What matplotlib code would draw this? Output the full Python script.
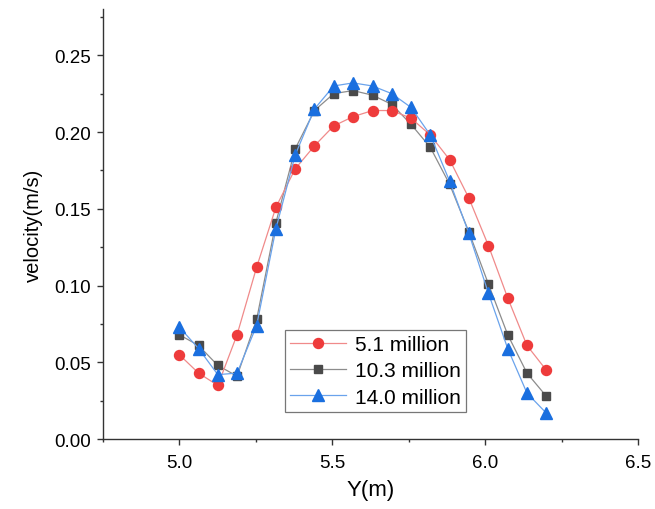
#!/usr/bin/env python3

import matplotlib
matplotlib.use("Agg")
import matplotlib.pyplot as plt
from matplotlib.ticker import MultipleLocator

plt.rcParams['font.family'] = ['Liberation Sans', 'DejaVu Sans']

y_pos = [5.000, 5.063, 5.126, 5.189, 5.253, 5.316, 5.379, 5.442, 5.505, 5.568,
         5.632, 5.695, 5.758, 5.821, 5.884, 5.947, 6.011, 6.074, 6.137, 6.200]

vel_5_1 = [0.055, 0.043, 0.035, 0.068, 0.112, 0.151, 0.176, 0.191, 0.204, 0.210,
           0.214, 0.214, 0.209, 0.198, 0.182, 0.157, 0.126, 0.092, 0.061, 0.045]
vel_10_3 = [0.068, 0.061, 0.048, 0.041, 0.078, 0.141, 0.189, 0.214, 0.225, 0.227,
            0.224, 0.218, 0.205, 0.190, 0.166, 0.135, 0.101, 0.068, 0.043, 0.028]
vel_14_0 = [0.073, 0.059, 0.042, 0.043, 0.074, 0.137, 0.185, 0.215, 0.230, 0.232,
            0.230, 0.225, 0.216, 0.198, 0.168, 0.134, 0.095, 0.059, 0.030, 0.017]

labels = ["5.1 million", "10.3 million", "14.0 million"]


def main():
    fig = plt.figure(figsize=(6.55, 5.10), dpi=100)
    ax = fig.add_axes([0.157, 0.137, 0.817, 0.843])

    # line colour is a lighter shade of the marker colour, like Origin
    h1, = ax.plot(y_pos, vel_5_1, color='#f08a8a', lw=0.9, marker='o', ms=7.2,
                  mfc='#ee3b3b', mec='#ee3b3b', label=labels[0], zorder=3)
    h2, = ax.plot(y_pos, vel_10_3, color='#8c8c8c', lw=0.9, marker='s', ms=6,
                  mfc='#4a4a4a', mec='#4a4a4a', label=labels[1], zorder=2)
    h3, = ax.plot(y_pos, vel_14_0, color='#6aa3ec', lw=0.9, marker='^', ms=8,
                  mfc='#1a6fdf', mec='#1a6fdf', label=labels[2], zorder=4)

    ax.set_xlim(4.75, 6.5)
    ax.set_ylim(0, 0.28)
    ax.xaxis.set_major_locator(MultipleLocator(0.5))
    ax.xaxis.set_minor_locator(MultipleLocator(0.25))
    ax.yaxis.set_major_locator(MultipleLocator(0.05))
    ax.yaxis.set_minor_locator(MultipleLocator(0.025))
    ax.xaxis.set_major_formatter(plt.FormatStrFormatter('%.1f'))
    ax.yaxis.set_major_formatter(plt.FormatStrFormatter('%.2f'))

    for side in ['top', 'right']:
        ax.spines[side].set_visible(False)
    for side in ['left', 'bottom']:
        ax.spines[side].set_linewidth(1.0)
        ax.spines[side].set_color('#333333')

    ax.tick_params(which='major', direction='out', length=4.5, width=1,
                   color='#333333', labelsize=13.5, pad=4)
    ax.tick_params(axis='x', which='major', pad=6)
    ax.tick_params(which='minor', direction='out', length=2.5, width=1,
                   color='#333333')

    ax.set_xlabel("Y(m)", fontsize=16, labelpad=6)
    ax.set_ylabel("velocity(m/s)", fontsize=14.5, labelpad=8)

    leg = ax.legend(handles=[h1, h2, h3], loc='upper left',
                    bbox_to_anchor=(0.435, 0.351),
                    bbox_transform=fig.transFigure, fontsize=15,
                    frameon=True, fancybox=False, borderaxespad=0,
                    handlelength=2.7, handletextpad=0.4, labelspacing=0.35,
                    borderpad=0.25)
    leg.get_frame().set_edgecolor('#555555')
    leg.get_frame().set_linewidth(0.9)

    fig.savefig("out.png", dpi=100)


if __name__ == "__main__":
    main()
